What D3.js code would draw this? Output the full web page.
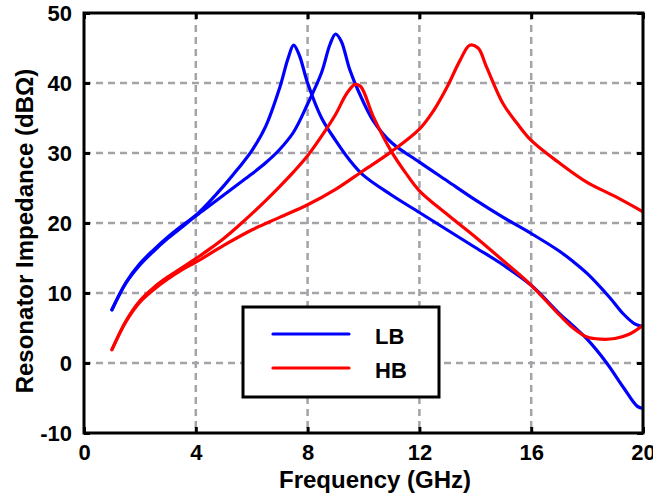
<!DOCTYPE html>
<html>
<head>
<meta charset="utf-8">
<script src="https://cdn.jsdelivr.net/npm/d3@7"></script>
<style>
  body { margin: 0; background: #fff; }
  text { font-family: "Liberation Sans", Arial, sans-serif; font-weight: bold; }
</style>
</head>
<body>
<div id="chart"></div>
<script>
// tick values
let xTicks = [0, 4, 8, 12, 16, 20];
let yTicks = [-10, 0, 10, 20, 30, 40, 50];

// LB curves (two resonances), [GHz, dBOhm]
let lbLow = [[1,7.6],[1.5,11.5],[2,14.2],[2.5,16.2],[3,18],[3.5,19.6],[4,21.1],[4.5,23.1],[5,25.3],
  [5.5,27.7],[6,30.3],[6.5,33.8],[7,39.3],[7.3,43.5],[7.5,45.4],[7.7,44],[8,40],[8.5,35],[9,31.8],
  [9.5,29],[10,26.8],[11,24],[12,21.5],[13,19],[14,16.5],[15,14],[16,11.1],[17,7.1],[17.5,5.3],
  [18,3.4],[18.7,0],[19.3,-3.5],[19.8,-6.2],[20,-6.5]];
let lbHigh = [[1,7.6],[1.5,11.4],[2,14],[2.5,16],[3,17.8],[3.5,19.4],[4,21],[4.5,22.5],[5,24],
  [5.5,25.5],[6,27],[6.5,28.6],[7,30.5],[7.5,33],[8,37],[8.5,41.5],[8.8,45.5],[9,47],[9.2,46],
  [9.5,42],[9.8,39],[10.35,34.6],[11,31.5],[12,28.7],[13,26],[14,23.3],[15,20.8],[16,18.5],
  [17,16],[17.5,14.5],[18,12.8],[18.8,9.4],[19.3,7],[19.7,5.6],[20,5.2]];

// HB curves
let hbLow = [[1,1.9],[1.5,6],[2,8.9],[2.5,10.8],[3,12.3],[3.5,13.6],[4,14.9],
  [4.5,16.3],[5,17.8],[5.5,19.5],[6,21.3],[6.5,23.2],[7,25.2],[7.5,27.3],[8,29.6],[8.5,32.4],
  [9,35.5],[9.4,38.5],[9.7,39.8],[9.9,39.5],[10.35,35.2],[11,30.2],[11.5,27.2],[12,24.6],
  [13,21.2],[14,18],[15,14.6],[16,11.1],[17,6.9],[17.5,5],[18,3.7],[18.5,3.4],[19,3.5],
  [19.5,4.1],[20,5.4]];
let hbHigh = [[1,1.9],[1.5,5.9],[2,8.7],[2.5,10.5],[3,12],[3.5,13.3],[4,14.4],[5,16.8],
  [6,19],[7,20.8],[8,22.6],[9,24.8],[10,27.5],[11,30.2],[12,33.4],[12.5,36],[13,39.5],
  [13.45,43.2],[13.8,45.4],[14.1,45],[14.4,42.3],[15,37],[15.5,34.2],[16,31.8],[17,28.6],
  [18,25.8],[19,23.8],[20,21.6]];

let legendNames = ["LB", "HB"];
let blue = "#0000ff", red = "#ff0000";

let width = 653, height = 497;
let pLeft = 84, pRight = 643, pTop = 13, pBottom = 433;

let x = d3.scaleLinear().domain([0, 20]).range([pLeft, pRight]);
let y = d3.scaleLinear().domain([-10, 50]).range([pBottom, pTop]);

let svg = d3.select("#chart").append("svg")
    .attr("width", width)
    .attr("height", height);

// grid
let grid = svg.append("g")
    .attr("stroke", "#a3a3a8")
    .attr("stroke-width", 2.5)
    .attr("stroke-dasharray", "7,5");
grid.selectAll("line.v")
  .data(xTicks.slice(1, -1))
  .enter().append("line")
    .attr("x1", d => x(d)).attr("x2", d => x(d))
    .attr("y1", pTop).attr("y2", pBottom);
grid.selectAll("line.h")
  .data(yTicks.slice(1, -1))
  .enter().append("line")
    .attr("x1", pLeft).attr("x2", pRight)
    .attr("y1", d => y(d)).attr("y2", d => y(d));

svg.append("clipPath").attr("id", "clip")
  .append("rect")
    .attr("x", pLeft).attr("y", pTop)
    .attr("width", pRight - pLeft).attr("height", pBottom - pTop);

let line = d3.line()
    .x(d => x(d[0]))
    .y(d => y(d[1]))
    .curve(d3.curveCatmullRom.alpha(0.5));

let curves = [[lbLow, blue], [lbHigh, blue], [hbLow, red], [hbHigh, red]];
let lines = svg.append("g").attr("clip-path", "url(#clip)");
curves.forEach(c => {
  lines.append("path")
    .datum(c[0])
    .attr("d", line)
    .attr("fill", "none")
    .attr("stroke", c[1])
    .attr("stroke-width", 3.2)
    .attr("stroke-linejoin", "round")
    .attr("stroke-linecap", "round");
});

// axes, ticks inside on all sides
let fmt = d => String(d);
let axB = svg.append("g").attr("transform", `translate(0,${pBottom})`)
    .call(d3.axisBottom(x).tickValues(xTicks).tickFormat(fmt).tickSizeInner(-6).tickSizeOuter(0).tickPadding(11));
let axT = svg.append("g").attr("transform", `translate(0,${pTop})`)
    .call(d3.axisTop(x).tickValues(xTicks).tickSizeInner(-6).tickSizeOuter(0).tickFormat(""));
let axL = svg.append("g").attr("transform", `translate(${pLeft},0)`)
    .call(d3.axisLeft(y).tickValues(yTicks).tickFormat(fmt).tickSizeInner(-6).tickSizeOuter(0).tickPadding(12));
let axR = svg.append("g").attr("transform", `translate(${pRight},0)`)
    .call(d3.axisRight(y).tickValues(yTicks).tickSizeInner(-6).tickSizeOuter(0).tickFormat(""));

[axB, axT, axL, axR].forEach(a => {
  a.select(".domain").remove();
  a.selectAll(".tick line").attr("stroke", "#000").attr("stroke-width", 3);
  a.selectAll(".tick text")
    .attr("fill", "#000")
    .style("font-size", "22px")
    .style("font-family", "'Liberation Sans', Arial, sans-serif")
    .style("font-weight", "bold");
});

svg.append("rect")
    .attr("x", pLeft).attr("y", pTop)
    .attr("width", pRight - pLeft).attr("height", pBottom - pTop)
    .attr("fill", "none")
    .attr("stroke", "#000")
    .attr("stroke-width", 3);

// axis titles
svg.append("text")
    .attr("x", 375).attr("y", 488)
    .attr("text-anchor", "middle")
    .style("font-size", "24px")
    .text("Frequency (GHz)");

svg.append("text")
    .attr("transform", "translate(33,231) rotate(-90)")
    .attr("text-anchor", "middle")
    .style("font-size", "24px")
    .text("Resonator Impedance (dBΩ)");

// legend
let legend = svg.append("g");
legend.append("rect")
    .attr("x", 243).attr("y", 307)
    .attr("width", 196).attr("height", 90)
    .attr("fill", "#fff")
    .attr("stroke", "#000")
    .attr("stroke-width", 3);
[blue, red].forEach((col, i) => {
  let ly = 334 + i * 34;
  legend.append("line")
    .attr("x1", 273).attr("x2", 349)
    .attr("y1", ly).attr("y2", ly)
    .attr("stroke", col)
    .attr("stroke-width", 3.2)
    .attr("stroke-linecap", "round");
  legend.append("text")
    .attr("x", 375).attr("y", ly + 10)
    .style("font-size", "22px")
    .text(legendNames[i]);
});
</script>
</body>
</html>
